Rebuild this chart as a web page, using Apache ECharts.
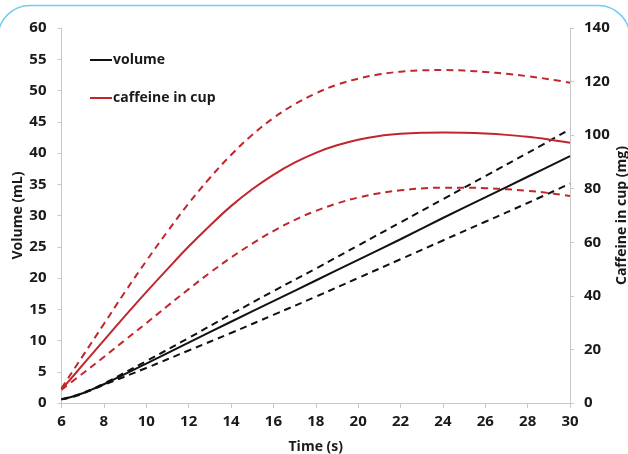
<!DOCTYPE html>
<html><head><meta charset="utf-8">
<script src="https://cdn.jsdelivr.net/npm/echarts@6/dist/echarts.min.js"></script>
<style>html,body{margin:0;padding:0;background:#fff}#c{width:628px;height:454px}</style>
</head><body><div id="c"></div>
<script>
const xTicks = [6, 8, 10, 12, 14, 16, 18, 20, 22, 24, 26, 28, 30];
const tVol = [6, 6.5, 7, 7.5, 8, 10, 12, 14, 16, 18, 20, 22, 24, 26, 28, 30];
const volume = [0.6, 1.0, 1.55, 2.25, 3.0, 6.3, 9.65, 13.0, 16.3, 19.6, 22.9, 26.2, 29.6, 32.9, 36.2, 39.5];
const volumeHigh = [0.6, 1.05, 1.6, 2.3, 3.1, 6.7, 10.4, 14.2, 17.9, 21.5, 25.2, 28.9, 32.6, 36.3, 40.0, 43.8];
const volumeLow = [0.6, 0.95, 1.5, 2.2, 2.9, 5.6, 8.4, 11.2, 14.1, 17.0, 20.0, 23.0, 26.0, 29.0, 32.0, 35.1];
const tCaf = [6, 7, 8, 9, 10, 11, 12, 13, 14, 15, 16, 17, 18, 19, 20, 21, 22, 23, 24, 25, 26, 27, 28, 29, 30];
const caffeine = [5, 14.2, 23.4, 32.5, 41.4, 50, 58.4, 66.2, 73.5, 79.8, 85.2, 89.7, 93.4, 96.2, 98.3, 99.7, 100.5, 100.9, 101, 100.9, 100.6, 100.1, 99.4, 98.4, 97.2];
const caffeineHigh = [5.5, 17.5, 29.5, 41.5, 53, 64, 74.5, 84, 92.6, 100.1, 106.4, 111.5, 115.6, 118.8, 121.1, 122.7, 123.7, 124.2, 124.3, 124.1, 123.6, 122.9, 122, 120.9, 119.6];
const caffeineLow = [5, 11, 17.2, 23.5, 29.8, 36.2, 42.5, 48.6, 54.3, 59.5, 64.2, 68.3, 71.7, 74.5, 76.7, 78.3, 79.4, 80.1, 80.4, 80.4, 80.2, 79.8, 79.2, 78.4, 77.3];
const yLeftTicks = [0, 5, 10, 15, 20, 25, 30, 35, 40, 45, 50, 55, 60];
const yRightTicks = [0, 20, 40, 60, 80, 100, 120, 140];

const BLACK = '#111111', RED = '#c0272d';
const FONT = 'Open Sans';
const pairs = (xs, ys) => xs.map((x, i) => [x, ys[i]]);
const lbl = {color: '#1a1a1a', fontFamily: FONT, fontWeight: 'bold', fontSize: 15};
const axisLine = {show: true, lineStyle: {color: '#c8c8c8', width: 1}};
const axisTick = {show: true, length: 4, lineStyle: {color: '#c8c8c8'}};
const nameStyle = {color: '#1a1a1a', fontFamily: FONT, fontWeight: 'bold', fontSize: 14};

function line(name, xs, ys, color, dashed, yIdx, width) {
  return {
    name: name, type: 'line', yAxisIndex: yIdx, data: pairs(xs, ys),
    smooth: 0.4, showSymbol: false, symbol: 'none', silent: true,
    lineStyle: {color: color, width: width, type: dashed ? [7, 5] : 'solid'},
    itemStyle: {color: color}, z: dashed ? 2 : 3
  };
}

const chart = echarts.init(document.getElementById('c'), null, {renderer: 'canvas'});
chart.setOption({
  animation: false,
  backgroundColor: '#ffffff',
  grid: {left: 61.5, right: 58, top: 28, bottom: 51, containLabel: false, outerBoundsMode: 'none'},
  legend: {
    orient: 'vertical', left: 85, top: 48, itemGap: 24,
    itemWidth: 22, itemHeight: 2, icon: 'rect',
    data: ['volume', 'caffeine in cup'],
    textStyle: {color: '#1a1a1a', fontFamily: FONT, fontWeight: 'bold', fontSize: 14, padding: [0, 0, 0, -4]}
  },
  xAxis: {
    type: 'value', min: xTicks[0], max: xTicks[xTicks.length - 1], interval: 2,
    name: 'Time (s)', nameLocation: 'middle', nameGap: 37, nameMoveOverlap: false,
    nameTextStyle: nameStyle,
    axisLine: axisLine, axisTick: {show: true, length: 5, lineStyle: {color: '#c8c8c8'}},
    axisLabel: Object.assign({margin: 11}, lbl), splitLine: {show: false}
  },
  yAxis: [{
    type: 'value', min: yLeftTicks[0], max: yLeftTicks[yLeftTicks.length - 1], interval: 5,
    name: 'Volume (mL)', nameLocation: 'middle', nameGap: 36, nameRotate: 90, nameMoveOverlap: false,
    nameTextStyle: nameStyle,
    axisLine: axisLine, axisTick: axisTick,
    axisLabel: Object.assign({margin: 15}, lbl), splitLine: {show: false}
  }, {
    type: 'value', position: 'right', min: yRightTicks[0], max: yRightTicks[yRightTicks.length - 1], interval: 20,
    name: 'Caffeine in cup (mg)', nameLocation: 'middle', nameGap: 45, nameRotate: 90, nameMoveOverlap: false,
    nameTextStyle: nameStyle,
    axisLine: axisLine, axisTick: axisTick,
    axisLabel: Object.assign({margin: 14}, lbl), splitLine: {show: false}
  }],
  graphic: [{
    type: 'rect', silent: true, z: 100,
    shape: {x: -2, y: 5.5, width: 632, height: 500, r: 32},
    style: {fill: 'none', stroke: '#6fcdf2', lineWidth: 1.5}
  }],
  series: [
    line('', tVol, volumeHigh, BLACK, true, 0, 2),
    line('', tVol, volumeLow, BLACK, true, 0, 2),
    line('volume', tVol, volume, BLACK, false, 0, 2),
    line('', tCaf, caffeineHigh, RED, true, 1, 2),
    line('', tCaf, caffeineLow, RED, true, 1, 2),
    line('caffeine in cup', tCaf, caffeine, RED, false, 1, 2)
  ]
});
</script>
</body></html>
